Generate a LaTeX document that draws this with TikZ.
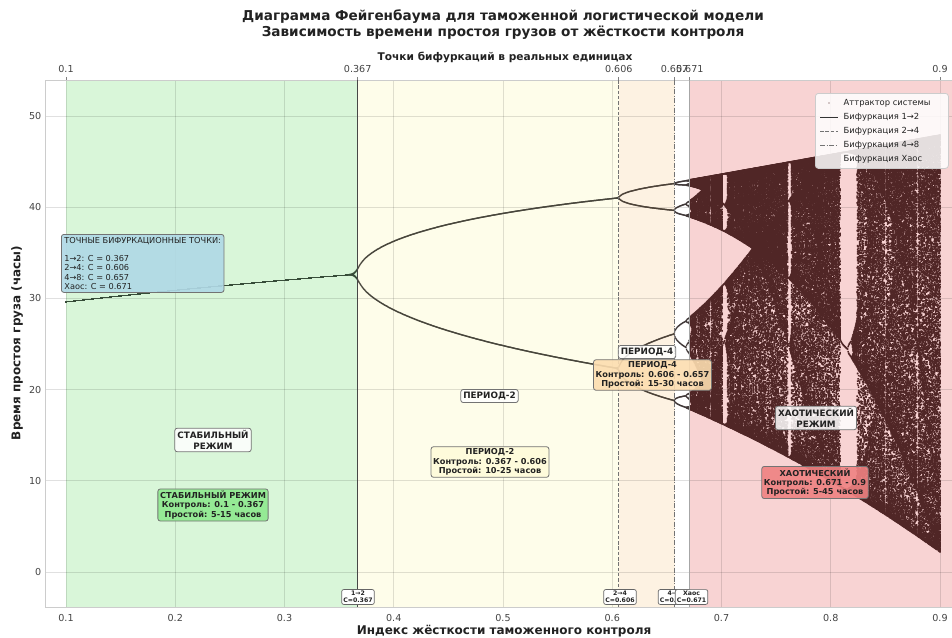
\documentclass[tikz,border=0pt]{standalone}
\usepackage{fontspec}
\setmainfont{DejaVu Sans}
\definecolor{spgreen}{RGB}{217,246,217}
\definecolor{spyellow}{RGB}{254,253,234}
\definecolor{sppeach}{RGB}{253,242,226}
\definecolor{sppink}{RGB}{248,211,211}
\definecolor{attcol}{RGB}{80,38,38}
\definecolor{txt}{RGB}{34,34,34}
\definecolor{tick}{RGB}{68,68,68}
\definecolor{infob}{RGB}{176,217,229}
\definecolor{boxg}{RGB}{142,233,142}
\definecolor{boxy}{RGB}{255,251,218}
\definecolor{boxp}{RGB}{252,221,176}
\definecolor{boxr}{RGB}{239,129,129}

\makeatletter
\def\emitcol#1{\pgfsys@invoke{#1}}
\makeatother
\newcount\colI \newcount\Rv \newcount\Xv \newcount\Tv \newcount\Qv \newcount\iterN \newcount\chunkN
\def\Sc{268435456}
\def\wh{3 6}
\def\colrg{0.314 0.149 0.149}
\gdef\colpath{}
\def\stepmap{\Tv=\numexpr\Rv*\Xv/\Sc\relax
  \Xv=\numexpr\Tv*(\Sc-\Xv)/\Sc\relax
  \ifnum\Xv<1 \Xv=80000000 \fi}
\def\transient{\ifnum\iterN>0 \stepmap\advance\iterN -1 \expandafter\transient\fi}
\def\flushcol{\edef\tmpcmd{\noexpand\emitcol{q \colrg\space rg 0.498132 0 0 0.249066 65.00623 -550.62513 cm \colpath f Q}}%
  \tmpcmd\gdef\colpath{}\chunkN=0 }
\def\doplot{\expandafter\xdef\csname qq\the\Qv\endcsname{\the\colI}%
  \xdef\colpath{\colpath\the\colI\space\the\Qv\space\wh\space re }%
  \advance\chunkN 1 \ifnum\chunkN>59 \flushcol\fi}
\def\plotpoint{\Qv=\numexpr\Xv*1667/\Sc\relax
  \ifcsname qq\the\Qv\endcsname
    \ifnum\csname qq\the\Qv\endcsname=\colI\relax\else\doplot\fi
  \else\doplot\fi}
\def\plotloop{\ifnum\iterN>0 \stepmap\plotpoint\advance\iterN -1 \expandafter\plotloop\fi}
\def\onecolumn{\begingroup
  \Rv=\numexpr 671088640+\colI*503316480/2185\relax
  \Xv=\numexpr 80000000+\colI*1000\relax
  \iterN=300 \transient
  \ifnum\colI<1248 \iterN=64 \def\wh{2.6 5.2}\else\iterN=240 \def\wh{3 6}\fi
  \ifnum\colI<583 \def\colrg{0.21 0.30 0.22}\else
    \ifnum\colI<1106 \def\colrg{0.28 0.27 0.23}\else
      \ifnum\colI<1217 \def\colrg{0.30 0.26 0.22}\else
        \ifnum\colI<1248 \def\colrg{0.25 0.22 0.22}\fi\fi\fi\fi
  \gdef\colpath{}\chunkN=0
  \plotloop
  \ifnum\chunkN>0 \flushcol\fi
  \endgroup}
\def\attractor{\colI=0
  \loop\onecolumn\advance\colI by 1 \ifnum\colI<1749 \repeat}

\tikzset{
  gridc/.style={draw=black, opacity=0.12, line width=0.8pt},
  ticklbl/.style={text=tick, font=\fontsize{9.6}{11}\selectfont, inner sep=0pt},
  lbl/.style={draw=black!55, rounded corners=2.5pt, fill=white, fill opacity=0.85, text opacity=1,
    text=txt, font=\bfseries\fontsize{8.8}{10.2}\selectfont, align=center, inner sep=2.6pt, line width=0.8pt},
  info/.style={draw=black!55, rounded corners=2.5pt, fill opacity=0.9, text opacity=1,
    text=txt, font=\bfseries\fontsize{8.2}{9.2}\selectfont, align=center, inner sep=2.2pt, line width=0.8pt},
  small/.style={draw=black!60, rounded corners=2pt, fill=white, text=txt,
    font=\bfseries\fontsize{6.2}{7}\selectfont, align=center, inner sep=1.6pt, line width=0.7pt},
  legtxt/.style={anchor=west, text=txt, font=\fontsize{8.4}{10}\selectfont, inner sep=0pt},
  legline/.style={line width=1pt}
}

\begin{document}
\begin{tikzpicture}[x=1pt,y=-1pt]
\useasboundingbox (0,0) rectangle (952,637);
\fill[white] (0,0) rectangle (952,637);
% regime spans
\fill[spgreen] (66,80) rectangle (357.7,607);
\fill[spyellow] (357.7,80) rectangle (618.8,607);
\fill[sppeach] (618.8,80) rectangle (674.5,607);
\fill[sppink] (689.8,80) rectangle (960,607);
% grid
\foreach \gx in {66,175.25,284.5,393.75,503,612.25,721.5,830.75,940}
  \draw[gridc] (\gx,80) -- (\gx,607);
\foreach \gy in {572,480.8,389.6,298.4,207.2,116}
  \draw[gridc] (45,\gy) -- (960,\gy);
\draw[black!20, line width=0.8pt] (45,80) rectangle (960,607);
% attractor (logistic map, computed)
\begin{scope}
\attractor
\end{scope}
% bifurcation lines
\draw[black!72, line width=1.3pt] (357.7,80) -- (357.7,607);
\draw[black!55, line width=0.9pt, dash pattern=on 3.5pt off 1.8pt] (618.8,80) -- (618.8,607);
\draw[black!55, line width=0.9pt, dash pattern=on 5pt off 1.6pt on 1pt off 1.6pt] (674.5,80) -- (674.5,607);
\draw[black!35, line width=0.8pt] (689.8,80) -- (689.8,607);
% top ticks
\foreach \gx in {66,357.7,618.8,674.5,689.8,940}
  \draw[black!50, line width=0.7pt] (\gx,80) -- (\gx,76.5);
% tick labels
\foreach \v/\gx [count=\k] in {0.1/66,0.2/175.25,0.3/284.5,0.4/393.75,0.5/503,0.6/612.25,0.7/721.5,0.8/830.75,0.9/940}
  \node[ticklbl] (xb\k) at (\gx,617.5) {\v};
\foreach \v/\gx [count=\k] in {0.1/66,0.367/357.7,0.606/618.8,0.657/674.5,0.671/689.8,0.9/940}
  \node[ticklbl] (xt\k) at (\gx,69) {\v};
\foreach \v/\gy [count=\k] in {0/572,10/480.8,20/389.6,30/298.4,40/207.2,50/116}
  \node[ticklbl, anchor=east] (yl\k) at (41.5,\gy) {\v};
% titles
\node[text=txt, font=\bfseries\fontsize{13.6}{15}\selectfont] (t1) at (503,17) {Диаграмма Фейгенбаума для таможенной логистической модели};
\node[text=txt, font=\bfseries\fontsize{13.6}{15}\selectfont] (t2) at (503,33) {Зависимость времени простоя грузов от жёсткости контроля};
\node[text=txt, font=\bfseries\fontsize{10.6}{12}\selectfont] (tx) at (505,57.5) {Точки бифуркаций в реальных единицах};
\node[text=txt, font=\bfseries\fontsize{12}{14}\selectfont] (bx) at (504,631) {Индекс жёсткости таможенного контроля};
\node[text=txt, font=\bfseries\fontsize{12}{14}\selectfont, rotate=90] (yx) at (17,343) {Время простоя груза (часы)};
% info box
\node[draw=black!55, rounded corners=2.5pt, fill=infob, fill opacity=0.92, text opacity=1, text=txt,
  font=\fontsize{8.2}{9.2}\selectfont, align=left, inner sep=3pt, anchor=north west, line width=0.8pt]
  (infobox) at (61,234) {ТОЧНЫЕ БИФУРКАЦИОННЫЕ ТОЧКИ:\\[9pt]1→2: C = 0.367\\2→4: C = 0.606\\4→8: C = 0.657\\Хаос: C = 0.671};
% regime labels
\node[lbl] (st1) at (213,440) {СТАБИЛЬНЫЙ\\РЕЖИМ};
\node[info, fill=boxg, draw=black!55] (st2) at (213,505) {СТАБИЛЬНЫЙ РЕЖИМ\\Контроль: 0.1 - 0.367\\Простой: 5-15 часов};
\node[lbl] (p21) at (489.5,396) {ПЕРИОД-2};
\node[info, fill=boxy] (p22) at (490,462) {ПЕРИОД-2\\Контроль: 0.367 - 0.606\\Простой: 10-25 часов};
\node[lbl] (p41) at (647,352) {ПЕРИОД-4};
\node[info, fill=boxp] (p42) at (652.5,375) {ПЕРИОД-4\\Контроль: 0.606 - 0.657\\Простой: 15-30 часов};
\node[lbl] (ch1) at (816,418) {ХАОТИЧЕСКИЙ\\РЕЖИМ};
\node[info, fill=boxr] (ch2) at (815,482.5) {ХАОТИЧЕСКИЙ\\Контроль: 0.671 - 0.9\\Простой: 5-45 часов};
% bifurcation point labels
\node[small] (b1) at (358,597) {1→2\\C=0.367};
\node[small] (b2) at (620,597) {2→4\\C=0.606};
\node[small] (b3) at (674.5,597) {4→8\\C=0.657};
\node[small] (b4) at (691.5,597) {Хаос\\C=0.671};
% legend
\node[draw=black!20, rounded corners=3pt, fill=white, fill opacity=0.85, minimum width=133pt, minimum height=75pt,
  anchor=north west, inner sep=0pt, line width=0.8pt] (leg) at (815,93) {};
\fill[attcol] (829,103) circle (0.7);
\coordinate (la) at (820,117); \coordinate (lb) at (838,117);
\draw[black!80, legline] (la) -- (lb);
\coordinate (lc) at (820,131); \coordinate (ld) at (838,131);
\draw[black!55, legline, dash pattern=on 3.5pt off 1.8pt] (lc) -- (ld);
\coordinate (le) at (820,145); \coordinate (lf) at (838,145);
\draw[black!55, legline, dash pattern=on 5pt off 1.6pt on 1pt off 1.6pt] (le) -- (lf);
\node[legtxt] (lt1) at (843.5,103) {Аттрактор системы};
\node[legtxt] (lt2) at (843.5,117) {Бифуркация 1→2};
\node[legtxt] (lt3) at (843.5,131) {Бифуркация 2→4};
\node[legtxt] (lt4) at (843.5,145) {Бифуркация 4→8};
\node[legtxt] (lt5) at (843.5,159) {Бифуркация Хаос};
\end{tikzpicture}
\end{document}
